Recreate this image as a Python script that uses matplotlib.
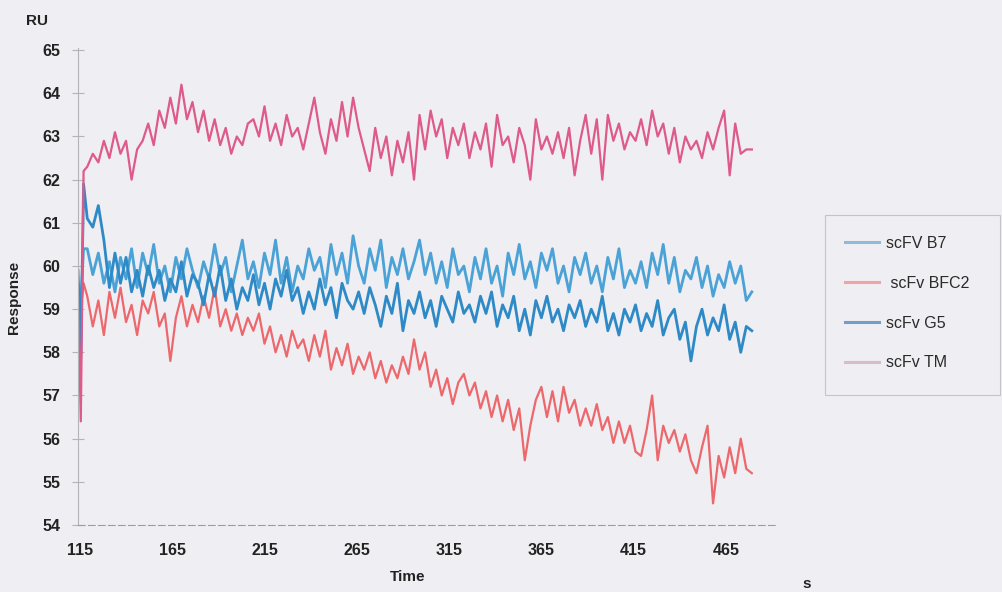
import numpy as np
import matplotlib
matplotlib.use("Agg")
import matplotlib.pyplot as plt
from matplotlib.lines import Line2D
from matplotlib.patches import Rectangle

plt.rcParams['font.family'] = ['Liberation Sans', 'DejaVu Sans']

# time axis (s): injection transient, then one reading every 3 s
time = np.concatenate([[114, 115.5, 117], np.arange(119, 480, 3)])

labels = ['scFV B7', ' scFv BFC2', 'scFv G5', 'scFv TM']
line_colors = ['#4aa2d6', '#ec686c', '#2e8ac6', '#de5a88']
legend_colors = ['#8cbcdc', '#f0a4a6', '#6f9fca', '#dcbcc4']

# responses (RU)
b7 = [59.6, 59.2, 60.4,
      60.4, 59.8, 60.3, 59.6, 60.1, 59.4, 60.2, 59.7, 60.4, 59.5,
      60.3, 59.8, 60.5, 59.6, 60.0, 59.4, 60.2, 59.7, 60.4, 59.9,
      59.5, 60.1, 59.7, 60.5, 59.8, 60.2, 59.4, 60.0, 60.6, 59.7,
      60.1, 59.5, 60.3, 59.8, 60.6, 59.6, 60.2, 59.4, 60.0, 59.7,
      60.4, 59.9, 60.2, 59.5, 60.5, 59.8, 60.3, 59.6, 60.7, 60.0,
      59.6, 60.4, 59.9, 60.6, 59.5, 60.2, 59.8, 60.4, 59.7, 60.1,
      60.6, 59.8, 60.3, 59.6, 60.1, 59.5, 60.4, 59.8, 60.0, 59.4,
      60.2, 59.7, 60.4, 59.6, 60.0, 59.3, 60.3, 59.8, 60.5, 59.7,
      60.1, 59.5, 60.3, 59.9, 60.4, 59.6, 60.0, 59.4, 60.2, 59.8,
      60.3, 59.6, 60.0, 59.4, 60.2, 59.7, 60.4, 59.5, 59.9, 59.6,
      60.1, 59.5, 60.3, 59.8, 60.5, 59.6, 60.2, 59.4, 59.9, 59.7,
      60.2, 59.5, 60.0, 59.3, 59.8, 59.5, 60.1, 59.6, 60.0, 59.2, 59.4]

bfc2 = [59.4, 59.0, 59.6,
        59.3, 58.6, 59.2, 58.4, 59.4, 58.8, 59.5, 58.7, 59.1, 58.4,
        59.2, 58.9, 59.4, 58.6, 58.9, 57.8, 58.8, 59.3, 58.6, 59.1,
        58.7, 59.3, 58.8, 59.5, 58.6, 59.0, 58.5, 58.9, 58.4, 58.8,
        58.5, 58.9, 58.2, 58.6, 58.0, 58.4, 57.9, 58.5, 58.1, 58.3,
        57.8, 58.4, 57.9, 58.5, 57.6, 58.1, 57.7, 58.2, 57.5, 57.9,
        57.6, 58.0, 57.4, 57.8, 57.3, 57.7, 57.4, 57.9, 57.5, 58.3,
        57.6, 58.0, 57.2, 57.6, 57.0, 57.4, 56.8, 57.3, 57.5, 57.0,
        57.3, 56.7, 57.1, 56.5, 57.0, 56.4, 56.9, 56.2, 56.7, 55.5,
        56.3, 56.9, 57.2, 56.5, 57.1, 56.4, 57.2, 56.6, 56.9, 56.3,
        56.7, 56.3, 56.8, 56.2, 56.5, 55.9, 56.4, 55.9, 56.3, 55.7,
        55.6, 56.2, 57.0, 55.5, 56.3, 55.9, 56.2, 55.7, 56.1, 55.5,
        55.2, 55.8, 56.3, 54.5, 55.6, 55.1, 55.8, 55.2, 56.0, 55.3, 55.2]

g5 = [59.9, 57.9, 61.9,
      61.1, 60.9, 61.4, 60.6, 59.5, 60.3, 59.6, 60.2, 59.4, 59.9,
      59.3, 60.0, 59.5, 59.9, 59.2, 59.7, 59.4, 60.1, 59.3, 59.8,
      59.6, 59.1, 59.8, 59.3, 60.0, 59.2, 59.7, 59.0, 59.5, 59.2,
      59.8, 59.1, 59.6, 59.0, 59.7, 59.3, 59.9, 59.2, 59.5, 58.9,
      59.4, 59.0, 59.7, 59.1, 59.5, 58.8, 59.6, 59.2, 59.0, 59.4,
      58.9, 59.5, 59.1, 58.6, 59.3, 58.9, 59.6, 58.5, 59.2, 58.9,
      59.4, 58.8, 59.2, 58.6, 59.3, 59.0, 58.7, 59.4, 58.9, 59.1,
      58.7, 59.3, 58.9, 59.4, 58.6, 59.1, 58.8, 59.3, 58.5, 59.0,
      58.4, 59.2, 58.8, 59.3, 58.7, 59.0, 58.5, 59.1, 58.8, 59.2,
      58.6, 59.0, 58.7, 59.3, 58.5, 58.9, 58.4, 59.0, 58.7, 59.1,
      58.5, 58.9, 58.6, 59.2, 58.4, 58.8, 59.0, 58.3, 58.7, 57.8,
      58.6, 59.0, 58.4, 58.8, 58.5, 59.1, 58.3, 58.7, 58.0, 58.6, 58.5]

tm = [59.3, 56.4, 62.2,
      62.3, 62.6, 62.4, 62.9, 62.5, 63.1, 62.6, 62.9, 62.0, 62.7,
      62.9, 63.3, 62.8, 63.6, 63.2, 63.9, 63.3, 64.2, 63.4, 63.8,
      63.1, 63.6, 62.9, 63.4, 62.8, 63.2, 62.6, 63.0, 62.8, 63.3,
      63.4, 63.0, 63.7, 62.9, 63.3, 62.8, 63.5, 63.0, 63.2, 62.7,
      63.3, 63.9, 63.1, 62.6, 63.4, 62.9, 63.8, 63.0, 63.9, 63.2,
      62.7, 62.2, 63.2, 62.5, 63.0, 62.1, 62.9, 62.4, 63.1, 62.0,
      63.5, 62.7, 63.6, 63.0, 63.4, 62.5, 63.2, 62.8, 63.3, 62.5,
      63.1, 62.7, 63.3, 62.3, 63.5, 62.8, 63.0, 62.4, 63.2, 62.8,
      62.0, 63.4, 62.7, 63.0, 62.6, 63.1, 62.5, 63.2, 62.1, 62.9,
      63.5, 62.6, 63.4, 62.0, 63.5, 62.9, 63.3, 62.7, 63.1, 62.9,
      63.4, 62.8, 63.6, 63.0, 63.3, 62.6, 63.2, 62.4, 63.0, 62.7,
      62.9, 62.5, 63.1, 62.7, 63.2, 63.6, 62.1, 63.3, 62.6, 62.7, 62.7]

series = [b7, bfc2, g5, tm]
widths = [2.0, 1.6, 2.0, 1.6]
yticks = list(range(54, 66))
xticks = [115, 165, 215, 265, 315, 365, 415, 465]

bg = '#efeef2'
fig = plt.figure(figsize=(10.03, 5.92), dpi=100, facecolor=bg)
ax = fig.add_axes([0.0778, 0.1132, 0.697, 0.8057], facecolor=bg)

for vals, c, lw in zip(series, line_colors, widths):
    ax.plot(time, vals, color=c, lw=lw, solid_joinstyle='round')

ax.set_xlim(114, 492.7)
ax.set_ylim(54, 65.05)
ax.set_yticks(yticks)
ax.set_xticks(xticks)

for s in ['top', 'right']:
    ax.spines[s].set_visible(False)
ax.spines['left'].set_color('#b4b4b8')
ax.spines['left'].set_linewidth(0.8)
ax.spines['bottom'].set_color('#9c9ca2')
ax.spines['bottom'].set_linewidth(0.8)
ax.spines['bottom'].set_linestyle((0, (6, 3)))

ax.tick_params(axis='y', direction='inout', length=8, width=0.8, color='#b4b4b8',
               pad=8.5, labelsize=11.5, labelcolor='#222222')
ax.tick_params(axis='x', length=0, pad=13, labelsize=11.5, labelcolor='#222222')
for lab in ax.get_xticklabels() + ax.get_yticklabels():
    lab.set_fontweight('bold')

fig.text(37 / 1003, 1 - 21 / 592, 'RU', ha='center', va='center',
         fontsize=11, fontweight='bold', color='#222222')
fig.text(14 / 1003, 1 - 297 / 592, 'Response', ha='center', va='center',
         rotation=90, fontsize=11, fontweight='bold', color='#222222')
fig.text(408 / 1003, 1 - 577 / 592, 'Time', ha='center', va='center',
         fontsize=11, fontweight='bold', color='#222222')
fig.text(807 / 1003, 1 - 584 / 592, 's', ha='center', va='center',
         fontsize=11, fontweight='bold', color='#222222')

# legend box drawn separately so its padding matches the scan
fig.patches.append(Rectangle((825 / 1003, 1 - 395 / 592), 175 / 1003, 180 / 592,
                             transform=fig.transFigure, facecolor=bg,
                             edgecolor='#c4c4c8', lw=0.8, zorder=0))
handles = [Line2D([], [], color=c, lw=2.2) for c in legend_colors]
leg = fig.legend(handles, labels, loc='upper left', bbox_to_anchor=(845 / 1003, 1 - 236 / 592),
                 frameon=False, fontsize=11.5, labelspacing=1.55, handlelength=2.1,
                 handletextpad=0.45, borderpad=0, borderaxespad=0)
for t in leg.get_texts():
    t.set_color('#2a2a2a')

fig.savefig('out.png', dpi=100, facecolor=bg)
